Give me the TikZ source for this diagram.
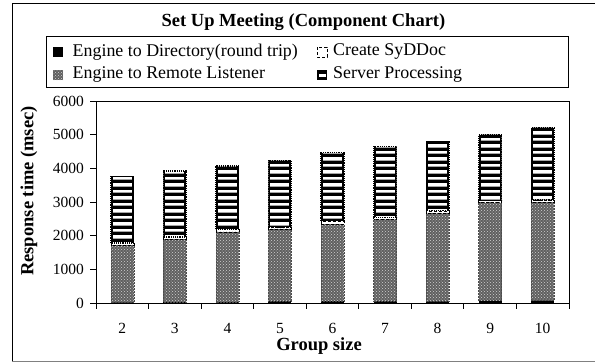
\documentclass[tikz,border=0pt]{standalone}
\usepackage{fontspec}
\setmainfont{Liberation Serif}
\usetikzlibrary{patterns}
\tikzset{
  lbl/.style={inner sep=0pt, font=\fontsize{17.9}{20}\selectfont, anchor=west},
  tick/.style={inner sep=0pt, font=\fontsize{15.5}{17}\selectfont},
  bold/.style={inner sep=0pt, font=\fontsize{18.5}{21}\selectfont\bfseries},
  axisline/.style={line width=0.8pt, black},
  remote/.style={fill=gray!75!black, postaction={pattern=crosshatch dots, pattern color=white!65!gray}},
}
\begin{document}
\begin{tikzpicture}[x=1pt, y=-1pt]
\useasboundingbox (0,0) rectangle (595,362);
% outer frame
\draw[line width=0.8pt] (12,361) -- (12,3) -- (594.5,3);
\draw[line width=0.8pt, gray] (12,361) -- (594.5,361);
% title
\node[bold] (title) at (303.5,22) {Set Up Meeting (Component Chart)};
% legend
\draw[line width=0.8pt] (46,36) rectangle (568,87);
\fill[black] (53,47) rectangle (63,57);
\node[lbl] (l1) at (72.5,52) {Engine to Directory(round trip)};
\fill[remote] (53,70) rectangle (63,80);
\node[lbl] (l2) at (72.5,75) {Engine to Remote Listener};
\draw[densely dashed, line width=0.6pt] (317,47) rectangle (327,57);
\node[lbl] (l3) at (333,52) {Create SyDDoc};
\fill[black] (317,70) rectangle (327,80);
\fill[white] (318.5,73.5) rectangle (325.5,76.5);
\node[lbl] (l4) at (333,75) {Server Processing};
% bars
\foreach \i/\d/\r/\s/\p in {2/20/1700/60/1990, 3/30/1870/60/1960, 4/30/2080/80/1880,
  5/50/2150/60/1980, 6/50/2290/100/2030, 7/50/2440/60/2110, 8/50/2630/60/2060,
  9/70/2910/60/1960, 10/70/2930/60/2140}{
  \pgfmathsetmacro\cx{96+52.556*(\i-1.5)}
  \pgfmathsetmacro\xl{\cx-11.5}
  \pgfmathsetmacro\xr{\cx+11.5}
  \pgfmathsetmacro\yb{303-0.033667*\d}
  \pgfmathsetmacro\yc{\yb-0.033667*\r}
  \pgfmathsetmacro\yd{\yc-0.033667*\s}
  \pgfmathsetmacro\ye{\yd-0.033667*\p}
  \fill[black] (\xl,303) rectangle (\xr,\yb);
  \fill[remote] (\xl,\yb) rectangle (\xr,\yc);
  \draw[gray!60!black, line width=0.5pt, densely dotted] (\xl,\yb) rectangle (\xr,\yc);
  \draw[black, line width=0.5pt, densely dashed] (\xl,\yc) rectangle (\xr,\yd);
  \begin{scope}
    \clip (\xl,\yd) rectangle (\xr,\ye);
    \fill[black] (\xl,\yd) rectangle (\xr,\ye);
    \foreach \k in {0,...,34}{
      \pgfmathsetmacro\yy{100+6.5*\k}
      \draw[white, line width=2.4pt] (\xl+2,\yy) -- (\xr-2,\yy);
      \draw[gray!70, line width=0.6pt] (\xl+2,\yy+1.5) -- (\xr-2,\yy+1.5);
    }
  \end{scope}
  \draw[black, line width=1.2pt, densely dotted] (\xl,\yd) rectangle (\xr,\ye);
}
% plot frame and axes
\draw[line width=0.8pt] (96,101.5) -- (569,101.5) -- (569,303);
\draw[axisline] (96,101) -- (96,303) -- (569,303);
\foreach \v/\nm in {0/y0,1000/y1,2000/y2,3000/y3,4000/y4,5000/y5,6000/y6}{
  \pgfmathsetmacro\yy{303-0.033667*\v}
  \draw[axisline] (90,\yy) -- (96,\yy);
  \node[tick, anchor=east] (\nm) at (84,\yy) {\v};
}
\foreach \k in {0,...,9}{
  \pgfmathsetmacro\xx{96+52.556*\k}
  \draw[axisline] (\xx,303) -- (\xx,309);
}
\foreach \i in {2,...,10}{
  \pgfmathsetmacro\cx{96+52.556*(\i-1.5)}
  \node[tick] (x\i) at (\cx,328) {\i};
}
\node[bold] (xlabel) at (319,346) {Group size};
\node[bold, rotate=90] (ylabel) at (29,191) {Response time (msec)};
\end{tikzpicture}
\end{document}
